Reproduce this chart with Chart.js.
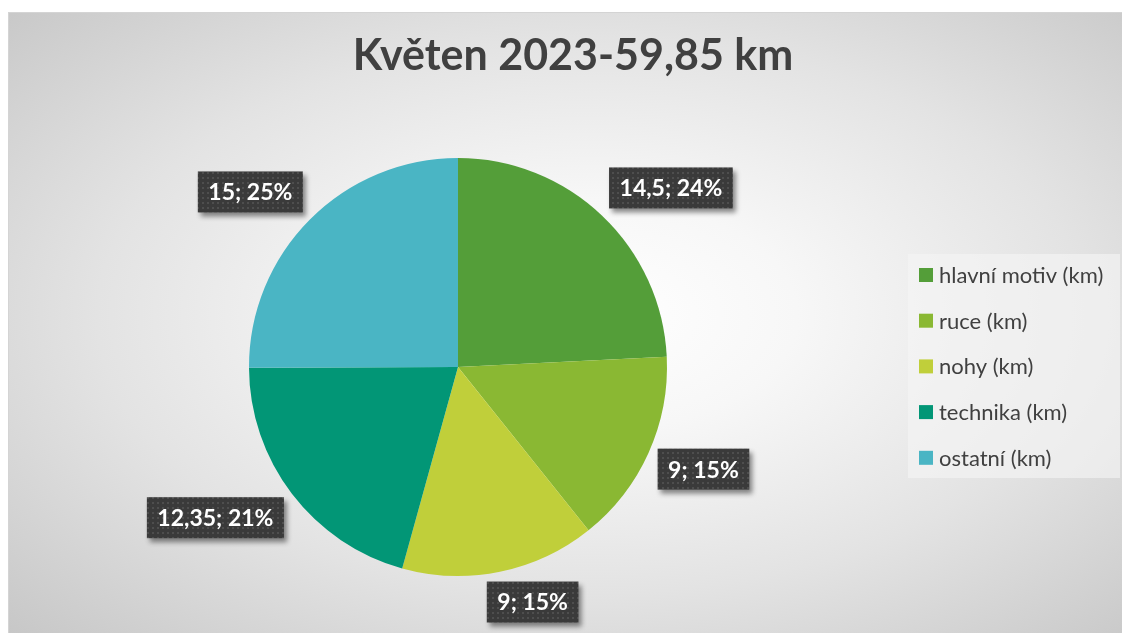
<!DOCTYPE html>
<html>
<head>
<meta charset="utf-8">
<script src="https://cdn.jsdelivr.net/npm/chart.js@4/dist/chart.umd.min.js"></script>
<style>
  html, body { margin: 0; padding: 0; background: #fff; }
  #wrap { position: relative; width: 1122px; height: 633px; overflow: hidden; }
  #bg {
    position: absolute; left: 8px; top: 12px; width: 1120px; height: 630px;
    border-top: 1px solid #d4d4d4; border-left: 1px solid #d4d4d4;
    background: radial-gradient(ellipse farthest-corner at 52% 48%, #ffffff 0%, #f7f7f7 25%, #e3e3e3 60%, #c6c6c6 100%);
  }
  #chart { position: absolute; left: 0; top: 0; }
</style>
</head>
<body>
<div id="wrap">
  <div id="bg"></div>
  <canvas id="chart" width="1122" height="633"></canvas>
</div>
<script>
// data
const chartTitle = 'Květen 2023-59,85 km';
const categories = ['hlavní motiv (km)', 'ruce (km)', 'nohy (km)', 'technika (km)', 'ostatní (km)'];
const distances = [14.5, 9, 9, 12.35, 15];
const sliceColors = ['#549e39', '#8ab833', '#c0cf3a', '#029676', '#4ab5c4'];

const FONT = 'Lato, "Open Sans", sans-serif';
const TEXT = '#404040';

function fmt(v) {
  return String(v).replace('.', ',');
}

function dotPattern(ctx) {
  const c = document.createElement('canvas');
  c.width = 5; c.height = 5;
  const p = c.getContext('2d');
  p.fillStyle = '#3a3a3a';
  p.fillRect(0, 0, 5, 5);
  p.fillStyle = '#4e4e4e';
  p.fillRect(2, 2, 2, 2);
  return ctx.createPattern(c, 'repeat');
}

const clamp = (v, a, b) => Math.max(a, Math.min(b, v));

// title, legend and label boxes drawn on top of the pie
const decor = {
  id: 'decor',
  afterDraw(chart) {
    const ctx = chart.ctx;
    const meta = chart.getDatasetMeta(0);
    const total = distances.reduce((s, v) => s + v, 0);

    ctx.save();
    // title
    ctx.fillStyle = TEXT;
    ctx.font = 'bold 43px ' + FONT;
    ctx.textAlign = 'center';
    ctx.textBaseline = 'alphabetic';
    ctx.fillText(chartTitle, 573, 70);

    // legend
    ctx.fillStyle = 'rgba(244,244,244,0.65)';
    ctx.fillRect(908, 254, 212, 224);
    ctx.font = '22px ' + FONT;
    ctx.textAlign = 'left';
    ctx.textBaseline = 'middle';
    categories.forEach((name, i) => {
      const y = 275 + i * 45.7;
      ctx.fillStyle = sliceColors[i];
      ctx.fillRect(919, y - 7, 14, 14);
      ctx.fillStyle = TEXT;
      ctx.fillText(name, 939, y + 1);
    });

    // data labels
    const pat = dotPattern(ctx);
    ctx.font = 'bold 23px ' + FONT;
    meta.data.forEach((arc, i) => {
      const mid = (arc.startAngle + arc.endAngle) / 2;
      const cos = Math.cos(mid), sin = Math.sin(mid);
      const r = arc.outerRadius + 10;
      const px = arc.x + r * cos, py = arc.y + r * sin;
      const label = fmt(distances[i]) + '; ' + Math.round(distances[i] / total * 100) + '%';
      const w = ctx.measureText(label).width + 21;
      const h = 41;
      const cx = px + clamp(cos / 0.3, -1, 1) * w / 2;
      const cy = py + clamp(sin / 0.7, -1, 1) * h / 2;
      ctx.save();
      ctx.shadowColor = 'rgba(0,0,0,0.45)';
      ctx.shadowOffsetX = 3;
      ctx.shadowOffsetY = 4;
      ctx.shadowBlur = 5;
      ctx.fillStyle = pat;
      ctx.fillRect(cx - w / 2, cy - h / 2, w, h);
      ctx.restore();
      ctx.fillStyle = '#ffffff';
      ctx.textAlign = 'center';
      ctx.textBaseline = 'middle';
      ctx.fillText(label, cx, cy + 1);
    });
    ctx.restore();
  }
};

new Chart(document.getElementById('chart'), {
  type: 'pie',
  data: {
    labels: categories,
    datasets: [{
      data: distances,
      backgroundColor: sliceColors,
      borderWidth: 0
    }]
  },
  options: {
    responsive: false,
    animation: false,
    layout: { padding: { left: 249, right: 455, top: 158, bottom: 57 } },
    plugins: {
      legend: { display: false },
      title: { display: false },
      tooltip: { enabled: false }
    }
  },
  plugins: [decor]
});
</script>
</body>
</html>
